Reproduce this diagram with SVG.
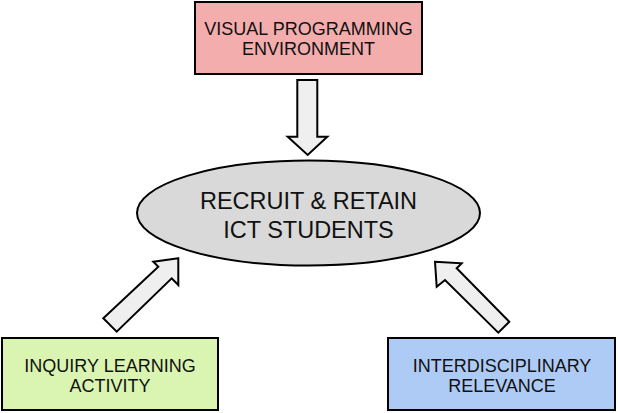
<svg xmlns="http://www.w3.org/2000/svg" width="618" height="413" viewBox="0 0 618 413">
<style>
.box{stroke:#000;stroke-width:2}
.lbl{font-family:"Liberation Sans",Arial,sans-serif;font-size:18px;fill:#111;text-anchor:middle}
.big{font-size:23.5px}
.arr{fill:#efefef;stroke:#000;stroke-width:2;stroke-linejoin:miter}
</style>
<rect width="618" height="413" fill="#fff"/>
<g id="connectors">
<path class="arr" d="M297.3,80 L317.3,80 L317.3,136.7 L327.3,136.7 L307.7,155 L287.7,136.7 L297.3,136.7 Z"/>
<path class="arr" d="M178.3,258.3 L153.3,261.7 L158.3,266.7 L103.3,318.3 L116.7,331.7 L171.7,278.3 L178.3,285 Z"/>
<path class="arr" d="M435,261.7 L461.7,263.3 L456.7,268.3 L509.3,321.7 L498.3,332.7 L445,280 L436.7,286.7 Z"/>
</g>
<g id="vpe">
<rect class="box" x="195" y="2" width="227" height="72" fill="#f4adad"/>
<text class="lbl" x="308.5" y="35">VISUAL PROGRAMMING</text>
<text class="lbl" x="308.5" y="55">ENVIRONMENT</text>
</g>
<g id="recruit">
<ellipse class="box" cx="308.5" cy="213" rx="171.5" ry="52.5" fill="#d9d9d9"/>
<text class="lbl big" x="308.5" y="209">RECRUIT &amp; RETAIN</text>
<text class="lbl big" x="308.5" y="238">ICT STUDENTS</text>
</g>
<g id="inquiry">
<rect class="box" x="2" y="338" width="216" height="72" fill="#d9f5b1"/>
<text class="lbl" x="110" y="372">INQUIRY LEARNING</text>
<text class="lbl" x="110" y="392">ACTIVITY</text>
</g>
<g id="interdisciplinary">
<rect class="box" x="388" y="338" width="227" height="72" fill="#aecbf5"/>
<text class="lbl" x="502" y="372">INTERDISCIPLINARY</text>
<text class="lbl" x="502" y="392">RELEVANCE</text>
</g>
</svg>
